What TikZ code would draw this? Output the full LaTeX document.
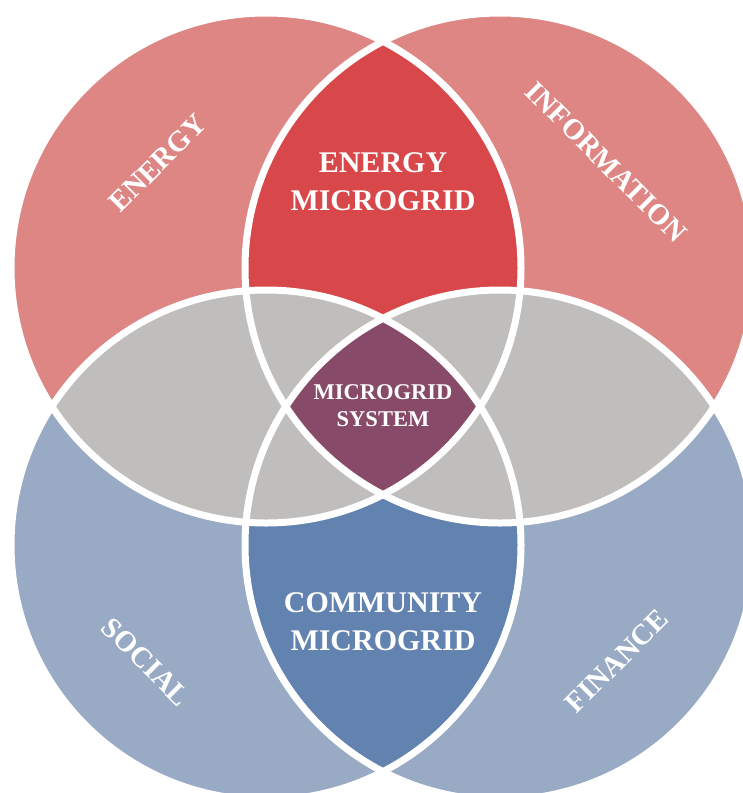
\documentclass[tikz,border=0pt]{standalone}
\usepackage{fontspec}
\setmainfont{Liberation Serif}
\definecolor{salmon}{RGB}{221,134,132}
\definecolor{redreg}{RGB}{216,72,74}
\definecolor{bluegray}{RGB}{152,170,196}
\definecolor{bluereg}{RGB}{98,130,176}
\definecolor{grayreg}{RGB}{191,190,189}
\definecolor{purplereg}{RGB}{135,75,105}
\tikzset{
  outerlab/.style={text=white, inner sep=0pt, font=\bfseries\fontsize{29}{33}\selectfont},
  biglab/.style={text=white, inner sep=0pt, align=center, font=\bfseries\fontsize{30}{38}\selectfont},
  smalllab/.style={text=white, inner sep=0pt, align=center, font=\bfseries\fontsize{22.5}{27}\selectfont},
  rim/.style={draw=white, line width=7pt}
}
\begin{document}
\begin{tikzpicture}[x=1pt,y=-1pt]
\useasboundingbox (0,0) rectangle (743,793);
\clip (0,0) rectangle (743,793);
\def\cTL{(266,268) circle[radius=255]}
\def\cTR{(500,268) circle[radius=255]}
\def\cBL{(266,545) circle[radius=255]}
\def\cBR{(500,545) circle[radius=255]}
% base circles
\fill[salmon] \cTL; \fill[salmon] \cTR;
\fill[bluegray] \cBL; \fill[bluegray] \cBR;
% pair overlaps
\begin{scope}\clip \cTL; \fill[redreg] \cTR;\end{scope}
\begin{scope}\clip \cBL; \fill[bluereg] \cBR;\end{scope}
\begin{scope}\clip \cTL; \fill[grayreg] \cBL;\end{scope}
\begin{scope}\clip \cTR; \fill[grayreg] \cBR;\end{scope}
% centre
\begin{scope}\clip \cTL; \clip \cTR; \clip \cBL; \fill[purplereg] \cBR;\end{scope}
% white rims
\draw[rim] \cTL; \draw[rim] \cTR; \draw[rim] \cBL; \draw[rim] \cBR;
% labels
\node[outerlab, rotate=45] (energy) at (158,163) {ENERGY};
\node[outerlab, rotate=-45] (information) at (606,162) {INFORMATION};
\node[outerlab, rotate=-45] (social) at (146,662) {SOCIAL};
\node[outerlab, rotate=45] (finance) at (617,661) {FINANCE};
\node[biglab] (emg) at (383,182) {ENERGY\\MICROGRID};
\node[smalllab] (mgs) at (383,406) {MICROGRID\\SYSTEM};
\node[biglab] (cmg) at (383,622) {COMMUNITY\\MICROGRID};
\end{tikzpicture}
\end{document}
